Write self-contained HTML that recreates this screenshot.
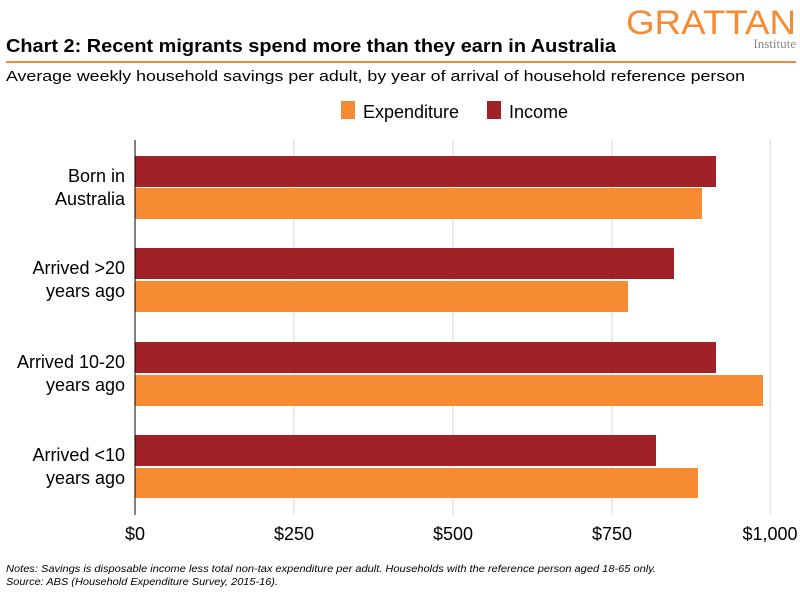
<!DOCTYPE html>
<html><head><style>
body{margin:0;background:#fff;width:800px;height:600px;overflow:hidden;font-family:"Liberation Sans",Arial,sans-serif}
</style></head><body>
<svg width="800" height="600" xmlns="http://www.w3.org/2000/svg" font-family="Liberation Sans, Arial, sans-serif">
<text x="626" y="34" font-size="34" fill="#f68b33" textLength="170" lengthAdjust="spacingAndGlyphs">GRATTAN</text>
<text x="796" y="48" font-size="13" fill="#888" text-anchor="end" font-family="Liberation Serif, serif">Institute</text>
<text x="6" y="52" font-size="18" font-weight="bold" fill="#000" textLength="610" lengthAdjust="spacingAndGlyphs">Chart 2: Recent migrants spend more than they earn in Australia</text>
<line x1="6" y1="62" x2="796" y2="62" stroke="#f68b33" stroke-width="2"/>
<text x="6" y="81" font-size="15" fill="#000" textLength="739" lengthAdjust="spacingAndGlyphs">Average weekly household savings per adult, by year of arrival of household reference person</text>
<rect x="341" y="101" width="14" height="18" fill="#f68b33"/>
<text x="363" y="118" font-size="18">Expenditure</text>
<rect x="487" y="101" width="14" height="18" fill="#a02226"/>
<text x="509" y="118" font-size="18">Income</text>
<g stroke="#d9d9d9" stroke-width="1">
<line x1="294" y1="140" x2="294" y2="515"/>
<line x1="453" y1="140" x2="453" y2="515"/>
<line x1="612" y1="140" x2="612" y2="515"/>
<line x1="770" y1="140" x2="770" y2="515"/>
</g>
<g fill="#a02226">
<rect x="135" y="156" width="581" height="31"/>
<rect x="135" y="248" width="539" height="31"/>
<rect x="135" y="342" width="581" height="31"/>
<rect x="135" y="435" width="521" height="31"/>
</g>
<g fill="#f68b33">
<rect x="135" y="188" width="567" height="31"/>
<rect x="135" y="281" width="493" height="31"/>
<rect x="135" y="375" width="628" height="31"/>
<rect x="135" y="468" width="563" height="30"/>
</g>
<line x1="135" y1="140" x2="135" y2="515" stroke="#000" stroke-width="1"/>
<g font-size="18" text-anchor="end" fill="#000">
<text x="125" y="182">Born in</text><text x="125" y="205">Australia</text>
<text x="125" y="274">Arrived &gt;20</text><text x="125" y="297">years ago</text>
<text x="125" y="368">Arrived 10-20</text><text x="125" y="391">years ago</text>
<text x="125" y="461">Arrived &lt;10</text><text x="125" y="484">years ago</text>
</g>
<g font-size="18" text-anchor="middle" fill="#000">
<text x="135" y="540">$0</text><text x="294" y="540">$250</text><text x="453" y="540">$500</text><text x="612" y="540">$750</text><text x="770" y="540">$1,000</text>
</g>
<text x="6" y="572" font-size="10.5" font-style="italic" fill="#000" textLength="650" lengthAdjust="spacingAndGlyphs">Notes: Savings is disposable income less total non-tax expenditure per adult. Households with the reference person aged 18-65 only.</text>
<text x="6" y="585" font-size="10.5" font-style="italic" fill="#000" textLength="272" lengthAdjust="spacingAndGlyphs">Source: ABS (Household Expenditure Survey, 2015-16).</text>
</svg>
</body></html>
